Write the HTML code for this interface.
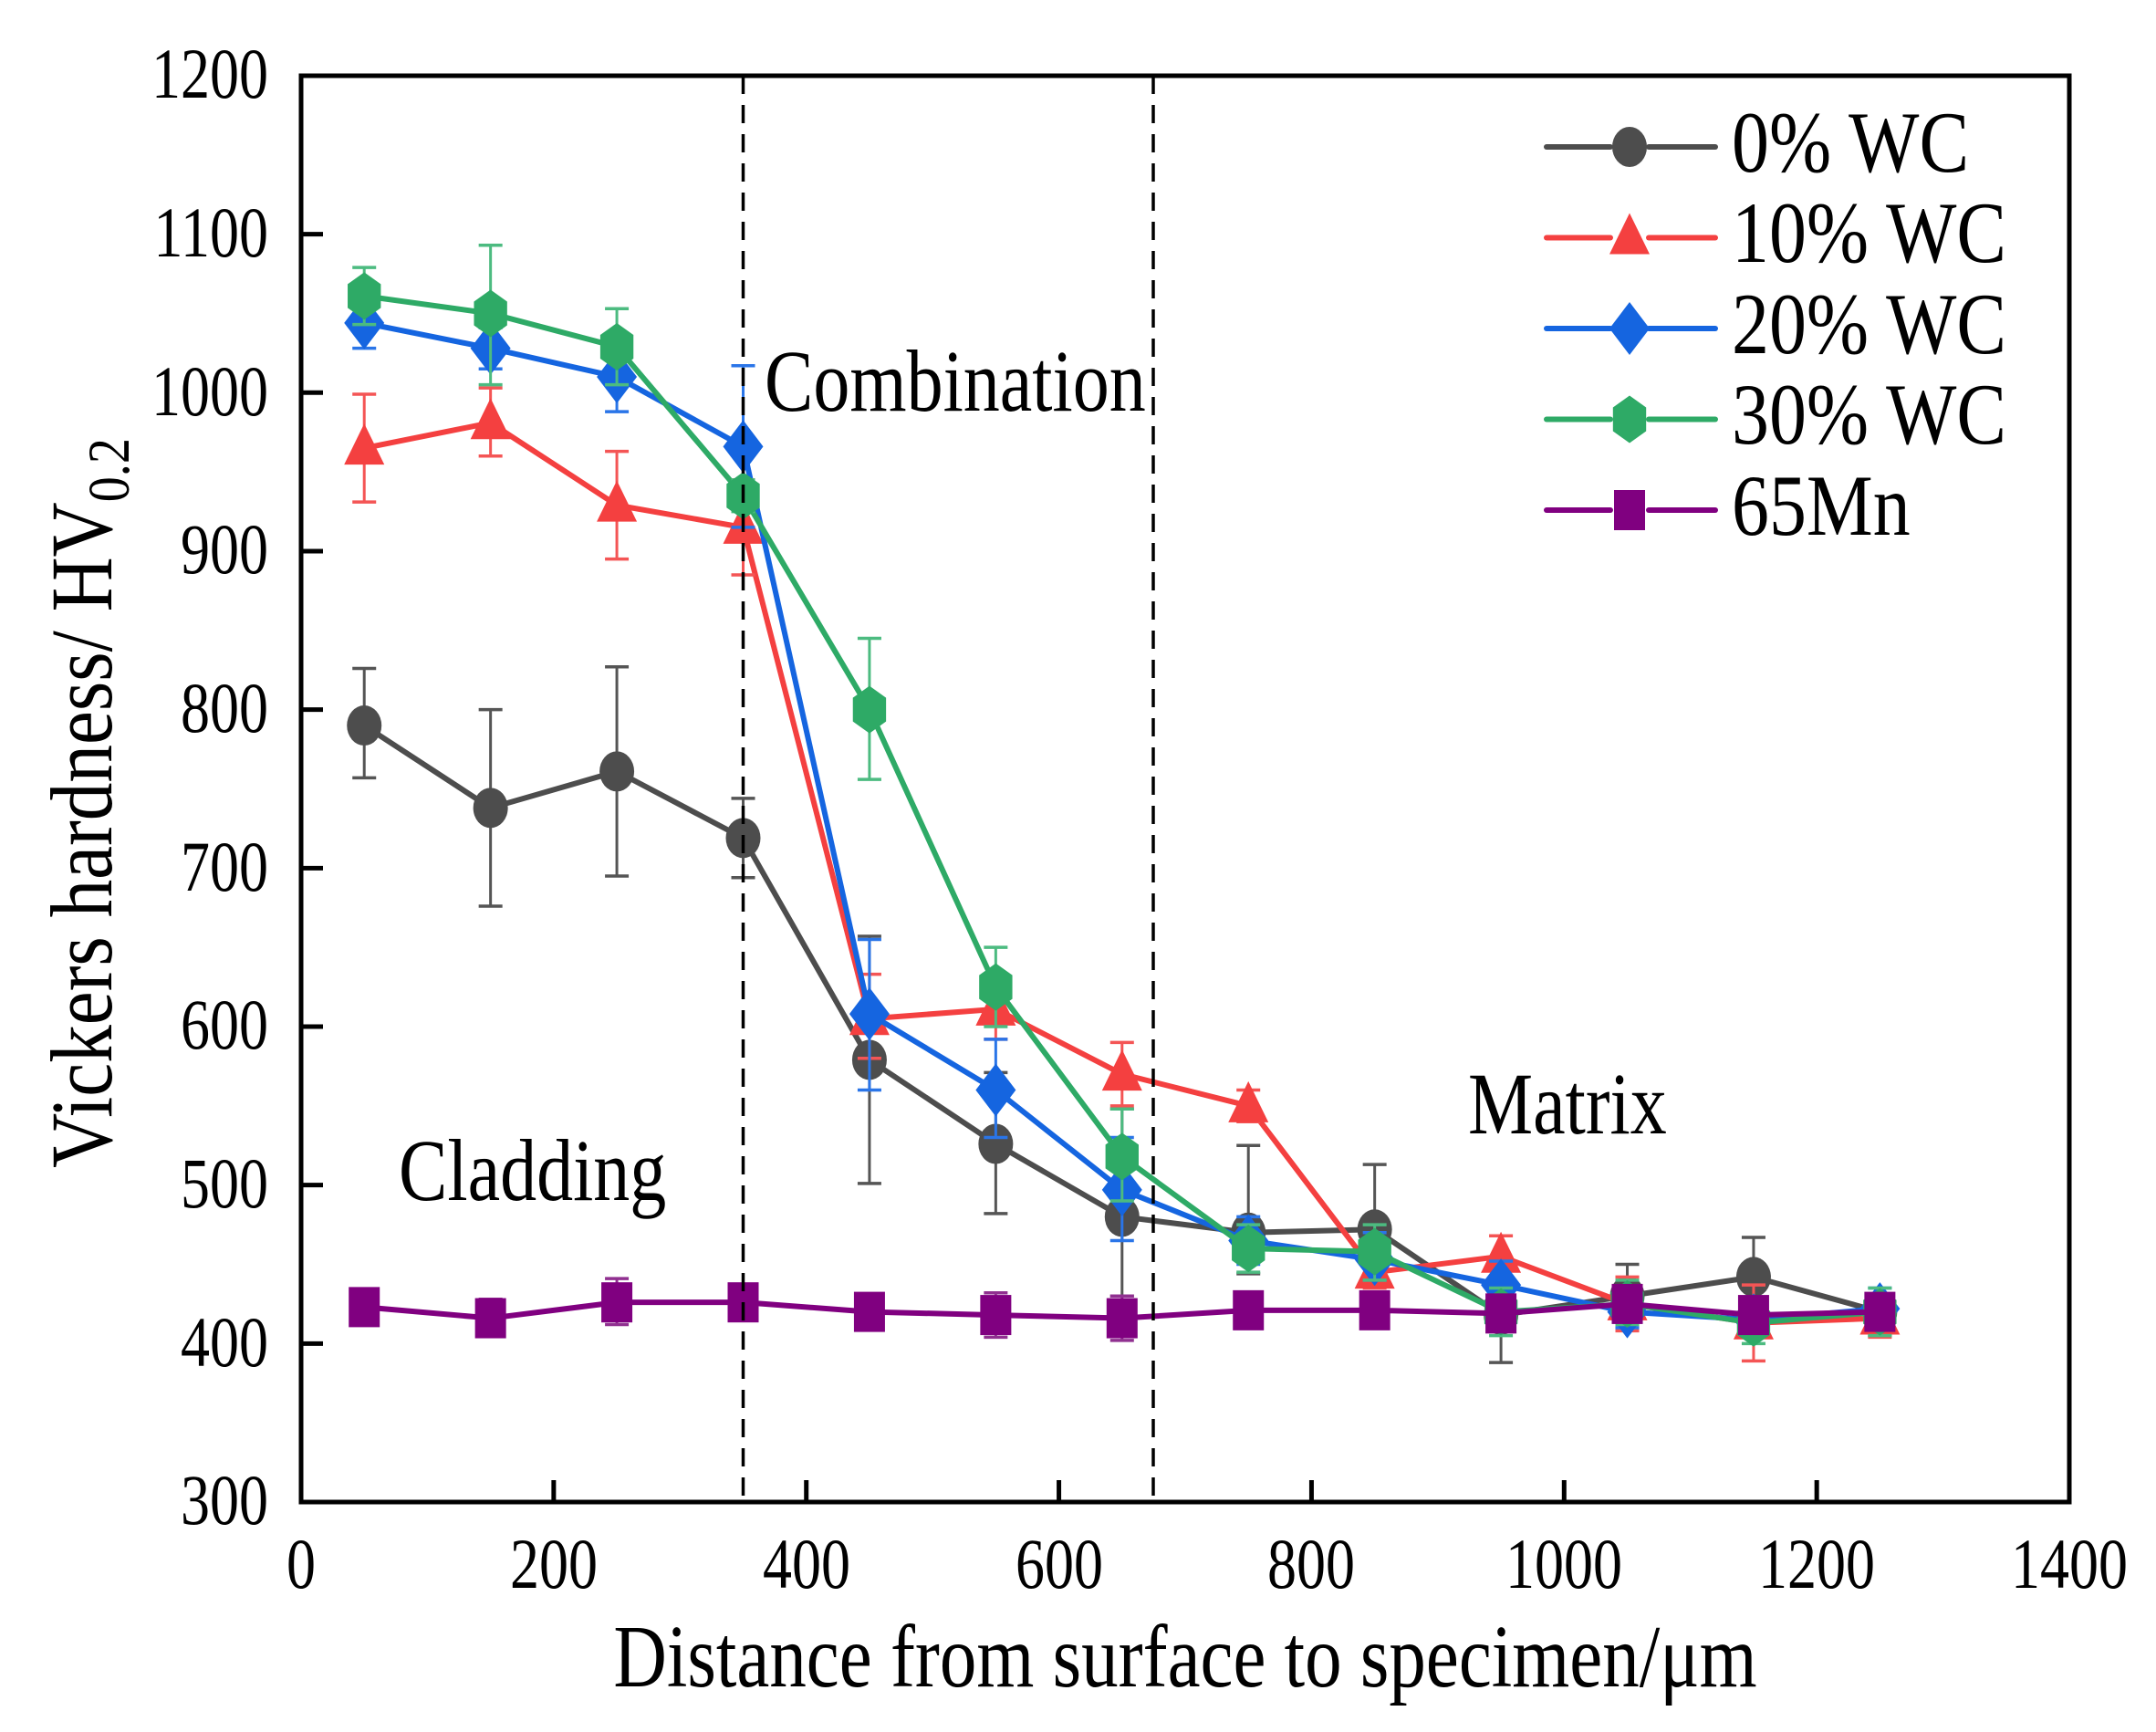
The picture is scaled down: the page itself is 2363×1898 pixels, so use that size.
<!DOCTYPE html>
<html><head><meta charset="utf-8"><style>
html,body{margin:0;padding:0;background:#fff;}
svg{display:block;font-family:"Liberation Serif",serif;}
</style></head><body>
<svg id="s" width="2363" height="1898" viewBox="0 0 2363 1898" xmlns="http://www.w3.org/2000/svg">
<rect width="2363" height="1898" fill="#fff"/>
<g id="data"></g>
<line x1="814.5" y1="83" x2="814.5" y2="1646" stroke="#000" stroke-width="3.5" stroke-dasharray="20,12"/>
<line x1="1264" y1="83" x2="1264" y2="1646" stroke="#000" stroke-width="3.5" stroke-dasharray="20,12"/>
<g id="ticks" stroke="#000" stroke-width="5"></g>
<rect x="330" y="83" width="1938" height="1563" fill="none" stroke="#000" stroke-width="5"/>
<g font-size="64" text-anchor="end" fill="#000">
<text transform="translate(294,107) scale(1,1.22)">1200</text>
<text transform="translate(294,281) scale(1,1.22)">1100</text>
<text transform="translate(294,455) scale(1,1.22)">1000</text>
<text transform="translate(294,628) scale(1,1.22)">900</text>
<text transform="translate(294,802) scale(1,1.22)">800</text>
<text transform="translate(294,976) scale(1,1.22)">700</text>
<text transform="translate(294,1149) scale(1,1.22)">600</text>
<text transform="translate(294,1323) scale(1,1.22)">500</text>
<text transform="translate(294,1497) scale(1,1.22)">400</text>
<text transform="translate(294,1670) scale(1,1.22)">300</text>
</g>
<g font-size="64" text-anchor="middle" fill="#000">
<text transform="translate(330,1740) scale(1,1.22)">0</text>
<text transform="translate(607,1740) scale(1,1.22)">200</text>
<text transform="translate(884,1740) scale(1,1.22)">400</text>
<text transform="translate(1161,1740) scale(1,1.22)">600</text>
<text transform="translate(1437,1740) scale(1,1.22)">800</text>
<text transform="translate(1714,1740) scale(1,1.22)">1000</text>
<text transform="translate(1991,1740) scale(1,1.22)">1200</text>
<text transform="translate(2268,1740) scale(1,1.22)">1400</text>
</g>
<text transform="translate(1299,1848) scale(1,1.2)" font-size="81" text-anchor="middle">Distance from surface to specimen/μm</text>
<text transform="translate(122,880) rotate(-90) scale(1.04,1.2)" font-size="80" text-anchor="middle">Vickers hardness/ HV<tspan font-size="54" dy="16">0.2</tspan></text>
<text transform="translate(838,450) scale(1,1.2)" font-size="80">Combination</text>
<text transform="translate(437,1315) scale(1,1.2)" font-size="80">Cladding</text>
<text transform="translate(1609,1242) scale(1,1.2)" font-size="80">Matrix</text>
<g id="leg"></g>
<g font-size="78" fill="#000">
<text transform="translate(1898,188) scale(1.05,1.22)">0% WC</text>
<text transform="translate(1898,287) scale(1.05,1.22)">10% WC</text>
<text transform="translate(1898,387) scale(1.05,1.22)">20% WC</text>
<text transform="translate(1898,486) scale(1.05,1.22)">30% WC</text>
<text transform="translate(1898,586) scale(1.05,1.22)">65Mn</text>
</g>
</svg>
<script>
var NS="http://www.w3.org/2000/svg";
function X(v){return 330+v*1.3843;}
function Y(v){return 1646-(v-300)*1.7367;}
function el(p,t,a){var e=document.createElementNS(NS,t);for(var k in a)e.setAttribute(k,a[k]);p.appendChild(e);return e;}
var tk=document.getElementById('ticks');
for(var v=200;v<1400;v+=200)el(tk,'line',{x1:X(v),y1:1646,x2:X(v),y2:1622});
for(var v=400;v<1200;v+=100)el(tk,'line',{x1:330,y1:Y(v),x2:354,y2:Y(v)});
var xs=[50,150,250,350,450,550,650,750,850,950,1050,1150,1250];
var S=[
{c:"#4d4d4d",e:"#555",m:"circle",y:[790,738,761,719,579,526,480,470,472,418,430,442,420],
 lo:[757,676,695,694,501,482,430,444,449,388,410,418,405],hi:[826,800,827,744,657,571,548,525,513,440,450,467,430]},
{c:"#f44040",e:"#f45555",m:"tri",y:[965,981,929,915,605,611,570,550,445,455,425,413,416],
 lo:[931,960,895,885,580,592,550,540,435,440,408,389,404],hi:[999,1003,963,945,633,632,590,560,455,468,442,437,428]},
{c:"#1565e0",e:"#2a75e8",m:"dia",y:[1044,1028,1010,966,608,560,497,465,453,437,420,415,422],
 lo:[1028,1015,988,915,560,530,465,450,440,420,410,405,410],hi:[1060,1041,1030,1017,655,592,530,480,470,452,430,428,435]},
{c:"#2eaa66",e:"#4cbb80",m:"hex",y:[1061,1050,1029,935,800,625,518,460,458,420,425,413,420],
 lo:[1043,1005,1005,925,756,600,490,445,440,405,412,400,405],hi:[1079,1093,1053,945,845,650,548,475,475,435,440,425,435]},
{c:"#800080",e:"#903090",m:"sq",y:[423,416,426,426,420,418,416,421,421,419,425,418,420],
 lo:[415,405,412,418,412,404,402,410,413,410,415,408,410],hi:[431,428,441,434,428,432,430,432,429,428,435,428,430]}
];
function marker(g,type,cx,cy,c,r){
 if(type=="circle")el(g,'ellipse',{cx:cx,cy:cy,rx:r*0.95,ry:r*1.1,fill:c});
 else if(type=="tri")el(g,'polygon',{points:(cx)+","+(cy-r*1.35)+" "+(cx-r*1.1)+","+(cy+r*0.9)+" "+(cx+r*1.1)+","+(cy+r*0.9),fill:c});
 else if(type=="dia")el(g,'polygon',{points:cx+","+(cy-r*1.45)+" "+(cx+r*1.1)+","+cy+" "+cx+","+(cy+r*1.45)+" "+(cx-r*1.1)+","+cy,fill:c});
 else if(type=="hex"){var p=[];for(var i=0;i<6;i++){var a=Math.PI/2+i*Math.PI/3;p.push((cx+r*1.05*Math.cos(a))+","+(cy-r*1.3*Math.sin(a)));}el(g,'polygon',{points:p.join(" "),fill:c});}
 else el(g,'rect',{x:cx-r*0.85,y:cy-r*1.1,width:r*1.7,height:r*2.2,fill:c});
}
var g=document.getElementById('data');
S.forEach(function(s){
 var pts=xs.map(function(x,i){return X(x)+","+Y(s.y[i]);}).join(" ");
 el(g,'polyline',{points:pts,fill:"none",stroke:s.c,"stroke-width":6});
 xs.forEach(function(x,i){
  var cx=X(x);
  el(g,'line',{x1:cx,y1:Y(s.lo[i]),x2:cx,y2:Y(s.hi[i]),stroke:s.e,"stroke-width":3});
  el(g,'line',{x1:cx-13,y1:Y(s.lo[i]),x2:cx+13,y2:Y(s.lo[i]),stroke:s.e,"stroke-width":3.5});
  el(g,'line',{x1:cx-13,y1:Y(s.hi[i]),x2:cx+13,y2:Y(s.hi[i]),stroke:s.e,"stroke-width":3.5});
 });
 xs.forEach(function(x,i){marker(g,s.m,X(x),Y(s.y[i]),s.c,20);});
});
var lg=document.getElementById('leg');
S.forEach(function(s,i){
 var y=161+i*99.5;
 el(lg,'line',{x1:1695,y1:y,x2:1765,y2:y,stroke:s.c,"stroke-width":6,"stroke-linecap":"round"});
 el(lg,'line',{x1:1807,y1:y,x2:1880,y2:y,stroke:s.c,"stroke-width":6,"stroke-linecap":"round"});
 marker(lg,s.m,1786,y,s.c,20);
});
</script>
</body></html>
